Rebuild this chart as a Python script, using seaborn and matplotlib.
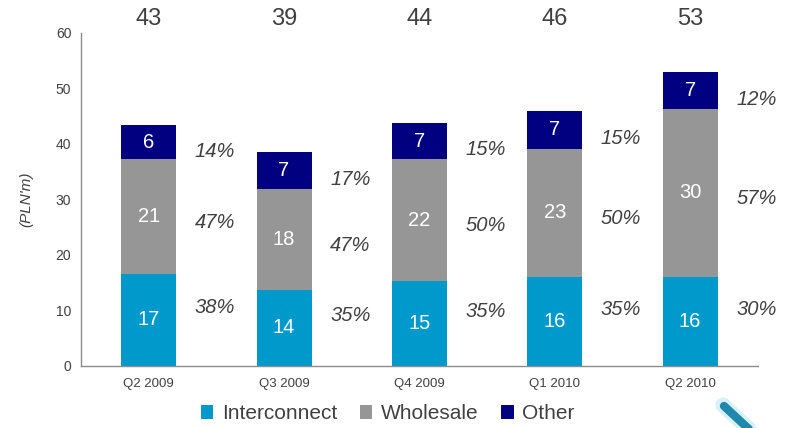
import numpy as np
import pandas as pd
import matplotlib
matplotlib.use("Agg")
import matplotlib.pyplot as plt
from matplotlib.lines import Line2D
from matplotlib.patches import Patch
import seaborn as sns

# Revenue by quarter (PLN m)
quarters = ["Q2 2009", "Q3 2009", "Q4 2009", "Q1 2010", "Q2 2010"]
interconnect = [16.6, 13.6, 15.2, 16.0, 16.0]
wholesale = [20.6, 18.3, 22.0, 23.1, 30.3]
other = [6.2, 6.7, 6.6, 6.9, 6.6]
series_names = ["Interconnect", "Wholesale", "Other"]

c_inter = "#0099CC"
c_whole = "#969696"
c_other = "#000080"
txt = "#404040"

sns.set_theme(style="white")
plt.rcParams["font.family"] = ["Liberation Sans", "DejaVu Sans"]

df = pd.DataFrame({"quarter": quarters, "Interconnect": interconnect,
                   "Wholesale": wholesale, "Other": other})
df["c1"] = df["Interconnect"]
df["c2"] = df["c1"] + df["Wholesale"]
df["c3"] = df["c2"] + df["Other"]

fig = plt.figure(figsize=(7.91, 4.28), dpi=100)
ax = fig.add_axes([0.1024, 0.1456, 0.8556, 0.7773])

bw = 0.406
for col, color in [("c3", c_other), ("c2", c_whole), ("c1", c_inter)]:
    sns.barplot(data=df, x="quarter", y=col, color=color, width=bw,
                saturation=1, ax=ax, edgecolor="none", linewidth=0)

ax.set_xlim(-0.5, 4.5)
ax.set_ylim(0, 60)
ax.set_yticks(range(0, 61, 10))
ax.tick_params(axis="both", length=0, colors=txt)
ax.tick_params(axis="y", labelsize=10, pad=7)
ax.tick_params(axis="x", labelsize=9.5, pad=9)
ax.set_xlabel("")
ax.set_ylabel("(PLN'm)", fontsize=11, style="italic", color=txt, labelpad=16)
for s in ["top", "right"]:
    ax.spines[s].set_visible(False)
for s in ["left", "bottom"]:
    ax.spines[s].set_color("#8c8c8c")
    ax.spines[s].set_linewidth(1.0)

segs = [(interconnect, np.zeros(5)), (wholesale, df["c1"].values),
        (other, df["c2"].values)]
pct_shift = [2.2, -1.0, -1.6]
for i in range(5):
    total = df["c3"].iloc[i]
    ax.text(i, 62.6, f"{total:.0f}", ha="center", va="center",
            fontsize=17, color=txt, clip_on=False)
    for k, (vals, base) in enumerate(segs):
        v = vals[i]
        mid = base[i] + v / 2
        ax.text(i, mid, f"{v:.0f}", ha="center", va="center",
                fontsize=14.5, color="white")
        ax.text(i + 0.49, mid + pct_shift[k], f"{v / total * 100:.0f}%",
                ha="center", va="center", fontsize=14.5, style="italic",
                color=txt)

handles = [Patch(facecolor=c, edgecolor="none") for c in (c_inter, c_whole, c_other)]
fig.legend(handles, series_names, loc="center", bbox_to_anchor=(0.49, 0.033),
           ncol=3, frameon=False, fontsize=15, handlelength=0.6,
           handleheight=0.6, handletextpad=0.4, columnspacing=1.1,
           labelcolor=txt)

# decorative brush stroke in the lower right corner
fig.add_artist(Line2D([723 / 791, 752 / 791], [1 - 405 / 428, 1 - 432 / 428],
                      color="#bfe6f2", linewidth=11, solid_capstyle="round",
                      transform=fig.transFigure, alpha=0.6))
fig.add_artist(Line2D([724 / 791, 752 / 791], [1 - 406 / 428, 1 - 432 / 428],
                      color="#1f88ad", linewidth=6, solid_capstyle="round",
                      transform=fig.transFigure))

fig.savefig("out.png", dpi=100)
